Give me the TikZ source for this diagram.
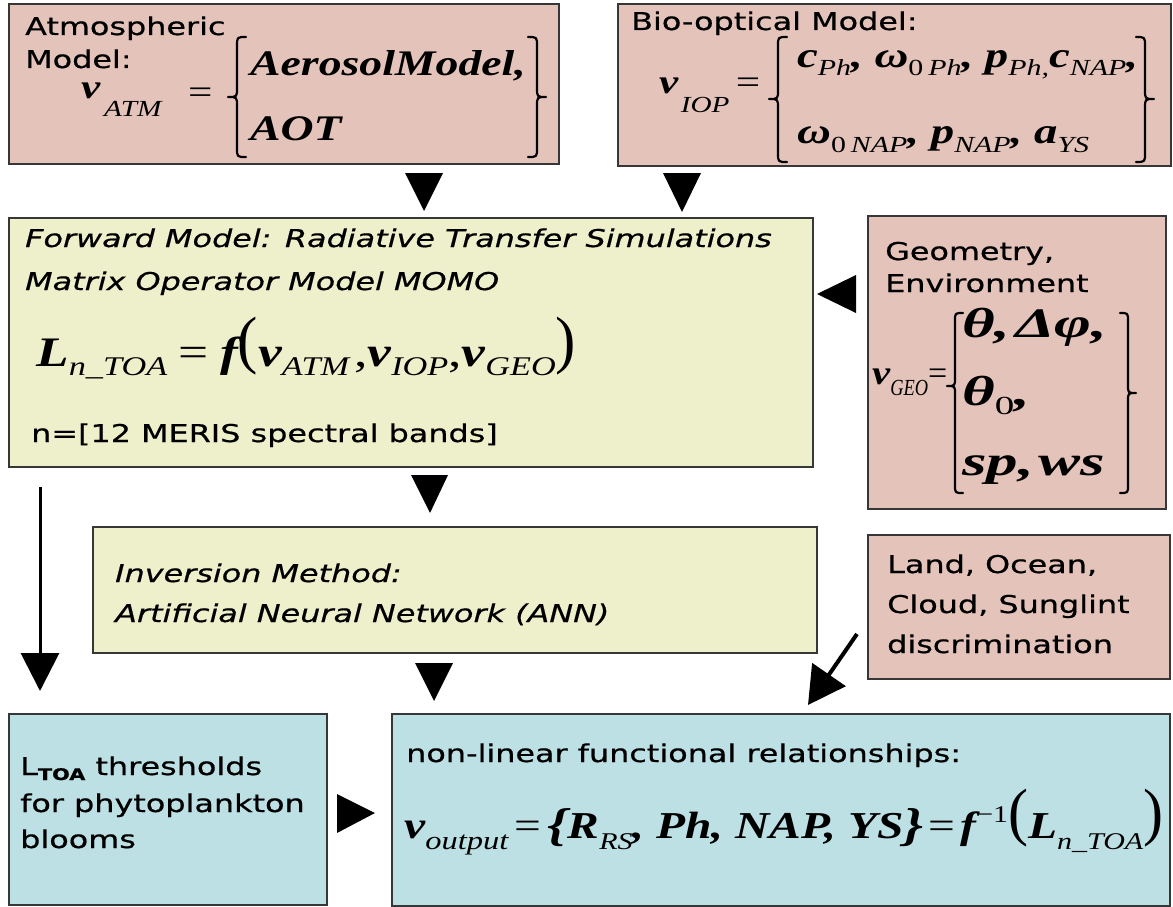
\documentclass[tikz,border=0pt]{standalone}
\usepackage{fontspec}
\setmainfont{DejaVu Sans}[FakeStretch=1.3,FakeBold=0.6]
\newfontfamily\tms{Liberation Serif}
\usetikzlibrary{arrows.meta}
\definecolor{pinkf}{RGB}{228,196,186}
\definecolor{yelf}{RGB}{238,240,203}
\definecolor{bluef}{RGB}{188,224,228}
\definecolor{edgec}{RGB}{55,55,55}
\newcommand\FS[1]{\fontsize{#1}{#1}\selectfont}
\newcommand\BI[1]{{\tms\bfseries\itshape #1}}
\newcommand\RM[1]{{\tms #1}}
\newcommand\SB[3]{\raisebox{-#2pt}{\FS{#1}\tms\itshape #3}}
\newcommand\SBr[3]{\raisebox{-#2pt}{\FS{#1}\tms #3}}
\newcommand\PL[1]{\raisebox{5pt}{\scalebox{0.75}[1]{\FS{64}\RM{#1}}}}
\newcommand\leftbr[5]{\draw[brline] ({#1+#5},#2) .. controls (#1,#2) .. (#1,{#2+abs(#5)}) -- (#1,{#3-abs(#5)}) .. controls (#1,#3) .. ({#1-#5},#3) .. controls (#1,#3) .. (#1,{#3+abs(#5)}) -- (#1,{#4-abs(#5)}) .. controls (#1,#4) .. ({#1+#5},#4);}
\tikzset{
  box/.style={draw=edgec, line width=2.2pt, anchor=north west, inner sep=0pt},
  pinkbox/.style={box, fill=pinkf},
  yelbox/.style={box, fill=yelf},
  bluebox/.style={box, fill=bluef},
  txt/.style={anchor=base west, inner sep=0pt, font=\FS{24.5}},
  itx/.style={anchor=base west, inner sep=0pt, font=\FS{24.5}\itshape},
  fm/.style={anchor=base west, inner sep=0pt},
  brline/.style={line width=2.2pt, line cap=round, line join=round},
  conn/.style={line width=3pt},
}
\begin{document}
\begin{tikzpicture}[x=1pt,y=-1pt]
\useasboundingbox (0,0) rectangle (1173,907);
\fill[white] (0,0) rectangle (1173,907);
% boxes
\node[pinkbox, minimum width=550pt, minimum height=160pt] (atm) at (8,3) {};
\node[pinkbox, minimum width=553pt, minimum height=162pt] (bio) at (617,3) {};
\node[yelbox, minimum width=804pt, minimum height=249pt] (fwd) at (8,217) {};
\node[pinkbox, minimum width=298pt, minimum height=293pt] (geo) at (867,215) {};
\node[yelbox, minimum width=724pt, minimum height=126pt] (inv) at (92,526) {};
\node[pinkbox, minimum width=302pt, minimum height=144pt] (land) at (867,534) {};
\node[bluebox, minimum width=318pt, minimum height=191pt] (ltoa) at (8,713) {};
\node[bluebox, minimum width=778pt, minimum height=192pt] (nonlin) at (391,713) {};
% atmospheric
\node[txt] (atmt1) at (25,35) {Atmospheric};
\node[txt] (atmt2) at (25,68) {Model:};
\node[fm] (atmv) at (81,99) {\scalebox{1.27}[1]{\FS{34}\BI{v}\hspace{3pt}\SB{23}{18}{ATM}}};
\node[fm] (atmeq) at (188,103) {\scalebox{1.27}[1]{\FS{34}\RM{=}}};
\node[fm] (atm1) at (250,75) {\scalebox{1.27}[1]{\FS{36}\BI{AerosolModel,}}};
\node[fm] (atm2) at (250,140) {\scalebox{1.27}[1]{\FS{36}\BI{AOT}}};
\leftbr{237}{37}{97}{157}{9}
\leftbr{537}{37}{97}{157}{-9}
% bio-optical
\node[txt] (biot) at (631,30) {Bio-optical Model:};
\node[fm] (biov) at (659,94) {\scalebox{1.27}[1]{\FS{34}\BI{v}\hspace{2pt}\SB{23}{18}{IOP}\hspace{5pt}\RM{=}}};
\node[fm] (bio1) at (797,67) {\scalebox{1.3}[1]{\FS{36}\BI{c}\SB{23}{9}{Ph}\BI{, ω}\SBr{23}{9}{0}\SB{23}{9}{\,Ph}\BI{, p}\SB{23}{9}{Ph,}\BI{c}\SB{23}{9}{NAP}\BI{,}}};
\node[fm] (bio2) at (797,143) {\scalebox{1.3}[1]{\FS{36}\BI{ω}\SBr{23}{9}{0}\SB{23}{9}{\,NAP}\BI{, p}\SB{23}{9}{NAP}\BI{, a}\SB{23}{9}{YS}}};
\leftbr{778}{37}{99}{162}{9}
\leftbr{1145}{37}{99}{162}{-9}
% forward model
\node[itx] (fwdt1) at (25,247) {Forward Model: Radiative Transfer Simulations};
\node[itx] (fwdt2) at (25,290) {Matrix Operator Model MOMO};
\node[fm] (fwdf) at (36,366) {\scalebox{1.27}[1]{\FS{42}\BI{L}\SB{27}{9}{n\_TOA}\hspace{9pt}\RM{=}\hspace{9pt}\BI{f}\PL{(}\BI{v}\SB{27}{9}{ATM}\hspace{4pt}\RM{,}\BI{v}\SB{27}{9}{IOP}\RM{,}\BI{v}\SB{27}{9}{GEO}\PL{)}}};
\node[txt] (fwdt3) at (31,442) {n=[12 MERIS spectral bands]};
% geometry
\node[txt] (geot1) at (885,260) {Geometry,};
\node[txt] (geot2) at (885,292) {Environment};
\node[fm] (geov) at (872,384) {\FS{34}\scalebox{1.2}[1]{\BI{v}}\SB{23}{11}{\scalebox{0.8}[1]{GEO}}\RM{=}};
\node[fm] (geo1) at (962,337) {\scalebox{1.5}[1]{\FS{42}\BI{θ,\hspace{3pt}Δφ,}}};
\node[fm] (geo2) at (962,405) {\scalebox{1.5}[1]{\FS{42}\BI{θ}\SBr{26}{9}{0}\BI{,}}};
\node[fm] (geo3) at (962,475) {\scalebox{1.5}[1]{\FS{42}\BI{sp,\hspace{3pt}ws}}};
\leftbr{955}{313}{386}{493}{8}
\leftbr{1128}{313}{393}{493}{-8}
% inversion
\node[itx] (invt1) at (115,582) {Inversion Method:};
\node[itx] (invt2) at (115,622) {Artificial Neural Network (ANN)};
% land
\node[txt] (landt1) at (887,573) {Land, Ocean,};
\node[txt] (landt2) at (887,613) {Cloud, Sunglint};
\node[txt] (landt3) at (887,653) {discrimination};
% ltoa
\node[txt] (ltoat1) at (20,775) {L\raisebox{-5pt}{\FS{16}\bfseries TOA} thresholds};
\node[txt] (ltoat2) at (20,812) {for phytoplankton};
\node[txt] (ltoat3) at (20,848) {blooms};
% nonlinear
\node[txt] (nont) at (406,762) {non-linear functional relationships:};
\node[fm] (nonf) at (404,838) {\scalebox{1.25}[1]{\FS{38}\BI{v}\SB{26}{11}{output}\hspace{5pt}\RM{=}\hspace{5pt}\raisebox{-2pt}{\FS{46}\BI{\{}}\BI{R}\SB{24}{11}{RS}\BI{, Ph, NAP, YS}\raisebox{-2pt}{\FS{46}\BI{\}}}\hspace{4pt}\RM{=}\hspace{4pt}\BI{f}\raisebox{16pt}{\FS{24}\RM{−1}}\PL{(}\BI{L}\SB{24}{11}{n\_TOA}\PL{)}}};
% arrow heads
\fill (405,173) -- (443,173) -- (424,211) -- cycle;
\fill (663,173) -- (701,173) -- (682,212) -- cycle;
\fill (817,294) -- (856,275) -- (856,313) -- cycle;
\fill (411,475) -- (448,475) -- (430,513) -- cycle;
\fill (415,663) -- (453,663) -- (434,701) -- cycle;
\fill (337,794) -- (337,833) -- (375,813) -- cycle;
% long arrows
\coordinate (la1) at (40,487);
\coordinate (la2) at (40,691);
\draw[conn, -{Triangle[width=38pt,length=38pt]}] (la1) -- (la2);
\coordinate (da1) at (857,634);
\coordinate (da2) at (808,705);
\draw[line width=4pt, -{Triangle[width=40pt,length=37pt]}] (da1) -- (da2);
\end{tikzpicture}
\end{document}
